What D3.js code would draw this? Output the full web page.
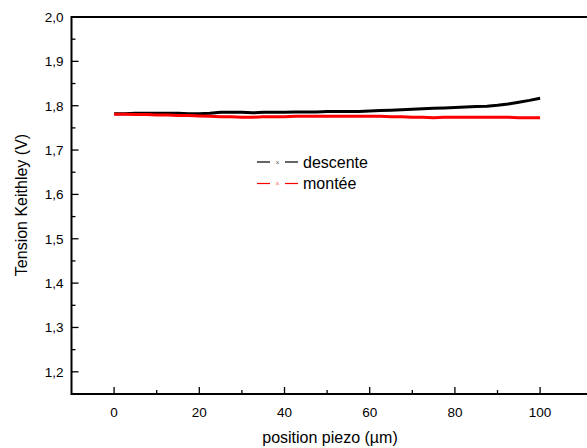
<!DOCTYPE html>
<html><head><meta charset="utf-8">
<script src="https://cdn.jsdelivr.net/npm/d3@7"></script>
<style>body{margin:0;background:#fff}svg{display:block}</style>
</head><body><svg id="c" width="587" height="448"></svg>
<script>
const positions = [0,2.5,5,7.5,10,12.5,15,17.5,20,22.5,25,27.5,30,32.5,35,37.5,40,42.5,45,47.5,50,52.5,55,57.5,60,62.5,65,67.5,70,72.5,75,77.5,80,82.5,85,87.5,90,92.5,95,97.5,100];
const descente = [1.782,1.782,1.783,1.783,1.783,1.783,1.783,1.782,1.782,1.783,1.785,1.785,1.785,1.784,1.785,1.785,1.785,1.786,1.786,1.786,1.787,1.787,1.787,1.787,1.788,1.789,1.790,1.791,1.792,1.793,1.794,1.795,1.796,1.797,1.798,1.799,1.801,1.804,1.808,1.812,1.817];
const montee = [1.781,1.781,1.780,1.780,1.779,1.779,1.778,1.778,1.777,1.776,1.775,1.775,1.774,1.774,1.775,1.775,1.775,1.776,1.776,1.776,1.776,1.776,1.776,1.776,1.776,1.776,1.775,1.775,1.774,1.774,1.773,1.774,1.774,1.774,1.774,1.774,1.774,1.774,1.773,1.773,1.773];
const seriesNames = ["descente","montée"];
const seriesColors = ["#000000","#ff0000"];
const xTicks = [0,20,40,60,80,100];
const xMinor = [10,30,50,70,90];
const yTicks = [1.2,1.3,1.4,1.5,1.6,1.7,1.8,1.9,2.0];
const yMinor = [1.25,1.35,1.45,1.55,1.65,1.75,1.85,1.95];

const svg = d3.select("#c");
const font = "'Liberation Sans', Arial, sans-serif";
const L = 71.5, T = 17, B = 394;
const x = d3.scaleLinear().domain([-10, 120]).range([L, L + 130*4.26]);
const y = d3.scaleLinear().domain([1.15, 2.0]).range([B, T]);

svg.append("path")
  .attr("d", `M${x.range()[1]},${T}H${L}V${B}H${x.range()[1]}`)
  .attr("fill","none").attr("stroke","#000").attr("stroke-width",2);

const gx = svg.append("g");
xTicks.forEach(v=>{
  gx.append("line").attr("x1",x(v)).attr("x2",x(v)).attr("y1",B).attr("y2",B-7).attr("stroke","#000").attr("stroke-width",1.3);
  gx.append("text").attr("x",x(v)).attr("y",B+23).attr("text-anchor","middle")
    .attr("font-family",font).attr("font-size",13.5).text(d3.format("d")(v));
});
xMinor.forEach(v=>{
  gx.append("line").attr("x1",x(v)).attr("x2",x(v)).attr("y1",B).attr("y2",B-4).attr("stroke","#000").attr("stroke-width",1.3);
});
const gy = svg.append("g");
const fmt = v => d3.format(".1f")(v).replace(".",",");
yTicks.forEach(v=>{
  gy.append("line").attr("x1",L).attr("x2",L+7).attr("y1",y(v)).attr("y2",y(v)).attr("stroke","#000").attr("stroke-width",1.3);
  gy.append("text").attr("x",L-8).attr("y",y(v)+5).attr("text-anchor","end")
    .attr("font-family",font).attr("font-size",13.5).text(fmt(v));
});
yMinor.forEach(v=>{
  gy.append("line").attr("x1",L).attr("x2",L+4).attr("y1",y(v)).attr("y2",y(v)).attr("stroke","#000").attr("stroke-width",1.3);
});

svg.append("text").attr("x",330).attr("y",443).attr("text-anchor","middle")
  .attr("font-family",font).attr("font-size",16).text("position piezo (µm)");
svg.append("text").attr("transform","translate(27,205) rotate(-90)").attr("text-anchor","middle")
  .attr("font-family",font).attr("font-size",16).text("Tension Keithley (V)");

const line = d3.line().x((d,i)=>x(positions[i])).y(d=>y(d));
[descente, montee].forEach((s,k)=>{
  svg.append("path").datum(s).attr("d",line).attr("fill","none")
    .attr("stroke",seriesColors[k]).attr("stroke-width",3).attr("stroke-linejoin","round");
});

const lg = svg.append("g");
[0,1].forEach(k=>{
  const cy = 162 + k*21.5;
  lg.append("line").attr("x1",257).attr("x2",270).attr("y1",cy).attr("y2",cy).attr("stroke",seriesColors[k]).attr("stroke-width",1.2);
  lg.append("line").attr("x1",285).attr("x2",298).attr("y1",cy).attr("y2",cy).attr("stroke",seriesColors[k]).attr("stroke-width",1.2);
  lg.append("text").attr("x",277.5).attr("y",cy+2.5).attr("text-anchor","middle").attr("font-family",font)
    .attr("font-size",7).attr("fill",seriesColors[k]).attr("opacity",0.6).text("×");
  lg.append("text").attr("x",303).attr("y",cy+5.5).attr("font-family",font).attr("font-size",16).text(seriesNames[k]);
});
</script></body></html>
